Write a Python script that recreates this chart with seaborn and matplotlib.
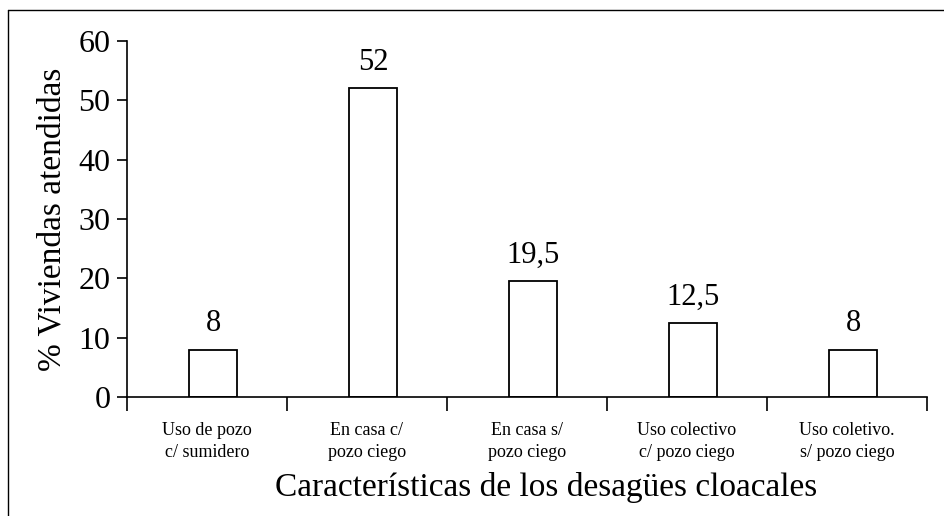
import matplotlib
matplotlib.use("Agg")
import matplotlib.pyplot as plt
import seaborn as sns
import pandas as pd
from matplotlib.lines import Line2D

categories = ["Uso de pozo\nc/ sumidero", "En casa c/\npozo ciego", "En casa s/\npozo ciego",
              "Uso colectivo\nc/ pozo ciego", "Uso coletivo.\ns/ pozo ciego"]
values = [8, 52, 19.5, 12.5, 8]
value_labels = ["8", "52", "19,5", "12,5", "8"]
yticks = [0, 10, 20, 30, 40, 50, 60]

sns.set_theme(style="white")
plt.rcParams['font.family'] = ['Liberation Serif', 'DejaVu Serif']
plt.rcParams['text.color'] = 'black'
plt.rcParams['axes.labelcolor'] = 'black'
plt.rcParams['xtick.color'] = 'black'
plt.rcParams['ytick.color'] = 'black'

df = pd.DataFrame({"cat": categories, "val": values})

fig = plt.figure(figsize=(9.44, 5.16), dpi=100)
ax = fig.add_axes([127/944, 1-397/516, 800/944, 356/516])

sns.barplot(data=df, x="cat", y="val", ax=ax, color="white", edgecolor="black",
            linewidth=1.3, width=0.3, saturation=1)

off = 0.04
n = len(categories)
ax.set_ylim(0, 60)
ax.set_xlim(-0.5 - off, n - 0.5 - off)
ax.set_yticks(yticks)
ax.set_yticklabels([str(t) for t in yticks], fontsize=23)
ax.set_xticks([i - 0.5 - off for i in range(n + 1)])
ax.set_xticklabels([])
ax.set_xticks([i - off for i in range(n)], minor=True)
ax.set_xticklabels(categories, minor=True, fontsize=13, linespacing=1.35)
ax.tick_params(axis='x', which='minor', length=0, pad=18)
ax.tick_params(axis='x', which='major', direction='out', length=10, width=1.2, color='black')
ax.tick_params(axis='y', direction='out', length=7, width=1.2, color='black', pad=5)
ax.yaxis.set_ticks_position('left')
ax.xaxis.set_ticks_position('bottom')

for s in ['top', 'right']:
    ax.spines[s].set_visible(False)
for s in ['left', 'bottom']:
    ax.spines[s].set_color('black')
    ax.spines[s].set_linewidth(1.2)

for i, (v, lab) in enumerate(zip(values, value_labels)):
    ax.annotate(lab, xy=(i, v), xytext=(0, 8), textcoords='offset points',
                ha='center', va='bottom', fontsize=22)

ax.set_xlabel("Características de los desagües cloacales", fontsize=24)
ax.xaxis.set_label_coords(0.524, -0.212)
ax.set_ylabel("% Viviendas atendidas", fontsize=24, labelpad=8)

fig.add_artist(Line2D([8/944, 1], [1-10/516, 1-10/516], transform=fig.transFigure, color='black', lw=1))
fig.add_artist(Line2D([8/944, 8/944], [0, 1-10/516], transform=fig.transFigure, color='black', lw=1))

fig.savefig("out.png", dpi=100, facecolor="white")
